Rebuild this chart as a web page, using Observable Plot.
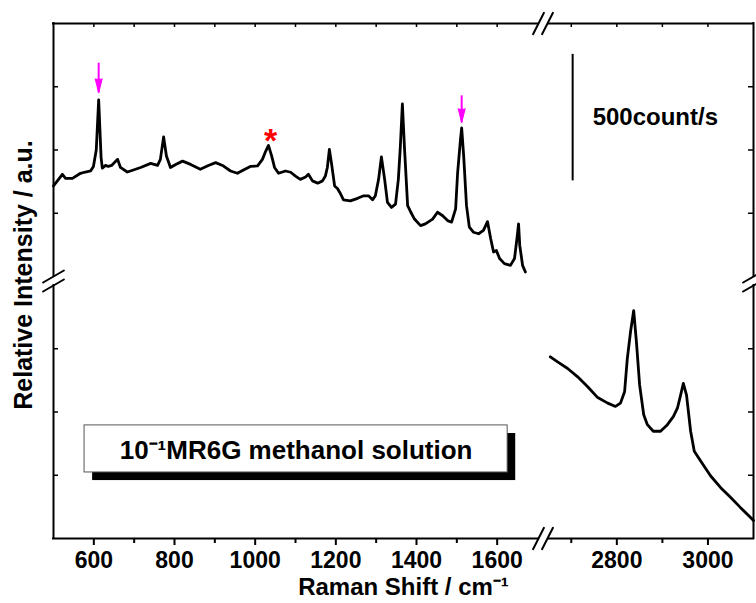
<!DOCTYPE html>
<html><head><meta charset="utf-8">
<script src="https://cdn.jsdelivr.net/npm/d3@7"></script>
<script src="https://cdn.jsdelivr.net/npm/@observablehq/plot@0.6"></script>
<style>body{margin:0;background:#fff}#chart svg{display:block}</style>
</head><body><div id="chart"></div>
<script>
// ---- data ----
// 10^-1 M R6G in methanol, fingerprint region (upper panel, counts offset +2000)
const leftShift = [500,522,530,547,567,579,592,599,606,612,618,621,629,636,644,659,666,683,698,716,741,758,765,773,780,790,803,820,840,864,884,902,919,939,956,971,988,1006,1018,1026,1033,1041,1048,1058,1075,1088,1100,1112,1125,1132,1142,1155,1167,1174,1179,1184,1189,1197,1204,1212,1219,1236,1254,1269,1281,1291,1298,1306,1313,1321,1328,1338,1348,1355,1360,1365,1370,1378,1385,1395,1410,1422,1440,1452,1465,1477,1487,1497,1502,1509,1512,1517,1524,1531,1541,1554,1566,1576,1584,1591,1598,1606,1618,1633,1643,1650,1653,1656,1663,1670];
const leftCounts = [2358,2404,2388,2388,2408,2413,2417,2435,2500,2698,2470,2428,2439,2435,2439,2463,2431,2413,2421,2431,2447,2439,2463,2552,2476,2431,2443,2456,2443,2424,2439,2450,2439,2417,2408,2421,2435,2437,2463,2495,2518,2476,2431,2408,2417,2412,2397,2384,2393,2404,2378,2369,2378,2397,2431,2502,2450,2358,2348,2326,2303,2299,2309,2319,2319,2303,2319,2384,2473,2384,2293,2273,2286,2384,2515,2682,2515,2280,2257,2227,2201,2208,2227,2254,2240,2221,2215,2267,2411,2541,2587,2476,2280,2195,2175,2169,2182,2217,2149,2097,2103,2071,2051,2044,2071,2162,2208,2123,2044,2018];
// C-H stretching region (lower panel)
const rightShift = [2654,2670,2692,2714,2736,2758,2780,2797,2808,2817,2823,2830,2837,2843,2850,2859,2867,2880,2896,2911,2924,2933,2940,2946,2953,2962,2970,2984,3006,3028,3050,3071,3093,3100];
const rightCounts = [718,698,672,639,600,557,535,522,535,580,711,816,901,777,607,489,450,424,424,450,482,515,567,613,567,424,345,306,247,201,162,123,84,71];

const majorTicks = [600,800,1000,1200,1400,1600,2800,3000];
const minorTicks = [700,900,1100,1300,1500,2700,2900];
const topTicks = [600,700,800,900,1000,1100,1200,1300,1400,1500,1600,2700,2800,2900,3000];
const yTicks = [250,500,750,2250,2500,2750];

const arrowPeaks = [612,1512];
const arrowTop = [2843,2714];
const arrowTip = [2726,2608];
const starShift = 1038, starCount = 2534;
const barShift = 2703, barLow = 2378, barHigh = 2878;
const barText = "500count/s";
const legendText = "10\u207B\u00B9MR6G methanol solution";
const xTitle = "Raman Shift / cm\u207B\u00B9";
const yTitle = "Relative Intensity / a.u.";

// ---- scales (broken axes as piecewise-linear scales) ----
const xDomain = [500,1700,2650,3100];
const xRange = [53,537,548,753];
const yDomain = [0,1000,2000,3000];
const yRange = [538,285,276,23];
const W = 756, H = 603, mL = 53, mR = 3, mT = 23, mB = 65;
const frameW = W - mL - mR, frameH = H - mT - mB;

const left = leftShift.map((s,i)=>({s, c:leftCounts[i]}));
const right = rightShift.map((s,i)=>({s, c:rightCounts[i]}));
const arrows = arrowPeaks.map((s,i)=>({s, top:arrowTop[i], tip:arrowTip[i]}));
const hSeg = [];
for (const y of [yDomain[0], yDomain[3]]) { hSeg.push({y,x1:xDomain[0],x2:xDomain[1]}); hSeg.push({y,x1:xDomain[2],x2:xDomain[3]}); }
const vSeg = [];
for (const x of [xDomain[0], xDomain[3]]) { vSeg.push({x,y1:yDomain[0],y2:yDomain[1]}); vSeg.push({x,y1:yDomain[2],y2:yDomain[3]}); }
const xBreak = (xDomain[1]+xDomain[2])/2, yBreak = (yDomain[1]+yDomain[2])/2;
const xBreaks = [{x:xBreak,y:yDomain[0]},{x:xBreak,y:yDomain[3]}];
const yBreaks = [{x:xDomain[0],y:yBreak},{x:xDomain[3],y:yBreak}];
const slash = {draw(ctx, l) { ctx.moveTo(0, 0); ctx.lineTo(0, -l); }};
const legendBox = [{x1:577,x2:1626,y1:261,y2:447}];
const legendShadow = [{x1:597,x2:1646,y1:229,y2:415}];
const font = "'Liberation Sans', Arial, Helvetica, sans-serif";

const chart = Plot.plot({
  width: W, height: H,
  marginLeft: mL, marginRight: mR, marginTop: mT, marginBottom: mB,
  x: {type: "linear", domain: xDomain, range: xRange, axis: null},
  y: {type: "linear", domain: yDomain, range: yRange, axis: null},
  style: {fontFamily: font, background: "white", overflow: "visible"},
  marks: [
    // legend box with drop shadow
    Plot.rect(legendShadow, {x1:"x1", x2:"x2", y1:"y1", y2:"y2", fill:"black"}),
    Plot.rect(legendBox, {x1:"x1", x2:"x2", y1:"y1", y2:"y2", fill:"white", stroke:"#555", strokeWidth:1}),
    Plot.text([legendText], {x: (legendBox[0].x1+legendBox[0].x2)/2, y: (legendBox[0].y1+legendBox[0].y2)/2 - 5, fontSize: 26, fontWeight: "bold", fill: "black", lineAnchor:"middle", textAnchor:"middle"}),
    // frame with gaps
    Plot.ruleY(hSeg, {y:"y", x1:"x1", x2:"x2", stroke:"black", strokeWidth:2, strokeLinecap:"square"}),
    Plot.ruleX(vSeg, {x:"x", y1:"y1", y2:"y2", stroke:"black", strokeWidth:2, strokeLinecap:"square"}),
    // break marks
    Plot.vector(xBreaks, {x:"x", y:"y", rotate:27, length:24, anchor:"middle", shape:slash, stroke:"black", strokeWidth:2, dx:-4.5}),
    Plot.vector(xBreaks, {x:"x", y:"y", rotate:27, length:24, anchor:"middle", shape:slash, stroke:"black", strokeWidth:2, dx:4.5}),
    Plot.vector(yBreaks, {x:"x", y:"y", rotate:60, length:24, anchor:"middle", shape:slash, stroke:"black", strokeWidth:2, dy:-4.5}),
    Plot.vector(yBreaks, {x:"x", y:"y", rotate:60, length:24, anchor:"middle", shape:slash, stroke:"black", strokeWidth:2, dy:4.5}),
    // ticks
    Plot.tickX(majorTicks, {x: d=>d, insetTop: frameH, insetBottom: -7, stroke:"black", strokeWidth:2}),
    Plot.tickX(minorTicks, {x: d=>d, insetTop: frameH, insetBottom: -5, stroke:"black", strokeWidth:2}),
    Plot.tickX(topTicks, {x: d=>d, insetBottom: frameH - 4, stroke:"black", strokeWidth:1.5}),
    Plot.tickY(yTicks, {y: d=>d, insetRight: frameW - 5, stroke:"black", strokeWidth:1.5}),
    Plot.tickY(yTicks, {y: d=>d, insetLeft: frameW - 5, stroke:"black", strokeWidth:1.5}),
    // tick labels and titles
    Plot.text(majorTicks, {x: d=>d, frameAnchor:"bottom", dy: 22, text: d=>String(d), fontSize: 23, fontWeight:"bold", fill:"black", lineAnchor:"middle", textAnchor:"middle"}),
    Plot.text([xTitle], {frameAnchor:"bottom", dy: 49, fontSize: 24, fontWeight:"bold", fill:"black", lineAnchor:"middle", textAnchor:"middle"}),
    Plot.text([yTitle], {frameAnchor:"left", rotate:-90, dx:-30, dy:-6, fontSize: 25, fontWeight:"bold", fill:"black", lineAnchor:"middle", textAnchor:"middle"}),
    // spectra
    Plot.line(left, {x:"s", y:"c", stroke:"black", strokeWidth:2.8, strokeLinejoin:"round"}),
    Plot.line(right, {x:"s", y:"c", stroke:"black", strokeWidth:2.8, strokeLinejoin:"round"}),
    // annotations
    Plot.ruleX(arrows, {x:"s", y1:"top", y2:"tip", stroke:"#ff00ff", strokeWidth:2}),
    Plot.vector(arrows, {x:"s", y:"tip", rotate:180, length:14, anchor:"end", shape:"spike", r:3.5, fill:"#ff00ff", stroke:"#ff00ff", strokeWidth:1}),
    Plot.text([{s:starShift, c:starCount}], {x:"s", y:"c", text: ()=>"*", fontSize: 34, fontWeight:"bold", fill:"#ff0000", lineAnchor:"middle", textAnchor:"middle"}),
    Plot.ruleX([{s:barShift, a:barLow, b:barHigh}], {x:"s", y1:"a", y2:"b", stroke:"black", strokeWidth:2}),
    Plot.text([{s:barShift, c:(barLow+barHigh)/2}], {x:"s", y:"c", dx: 20, text: ()=>barText, textAnchor:"start", lineAnchor:"middle", fontSize: 24, fontWeight:"bold", fill:"black"})
  ]
});
document.getElementById("chart").appendChild(chart);
</script></body></html>
